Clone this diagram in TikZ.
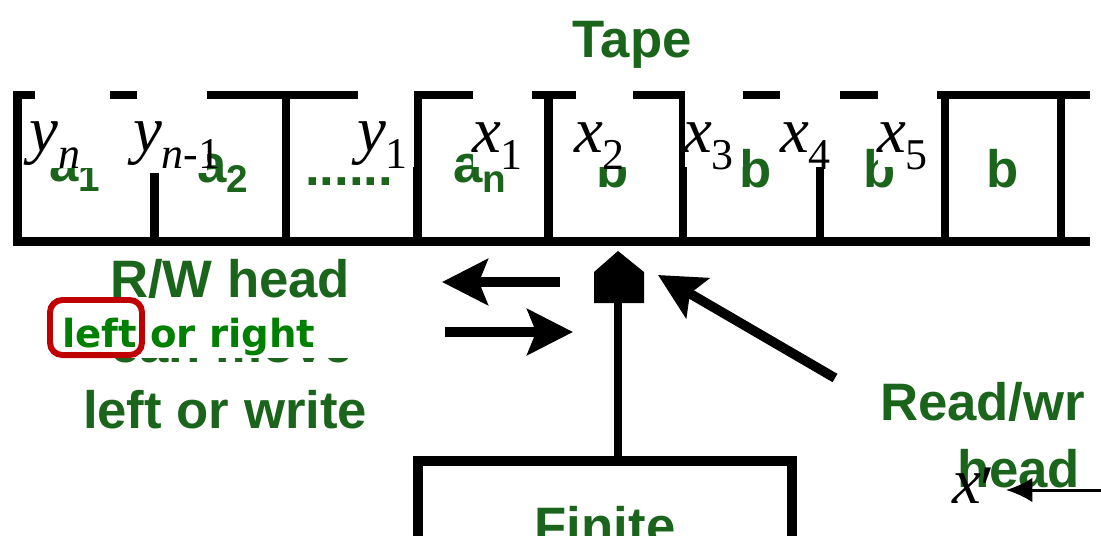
\documentclass[tikz,border=0pt]{standalone}
\usepackage{fontspec}
\setmainfont{Liberation Sans}
\newfontfamily\tms{Liberation Serif}
\newfontfamily\dejavu{DejaVu Sans}
\usetikzlibrary{arrows.meta,positioning}
\definecolor{TapeGreen}{HTML}{1B641B}
\definecolor{NoteGreen}{HTML}{008000}
\definecolor{Mark}{HTML}{C00000}
\newcommand\cellsub[2]{#1\raisebox{-6pt}{\fontsize{22}{22}\selectfont #2}}
\newcommand\varsub[2]{{\itshape #1}\raisebox{-10pt}{\fontsize{25}{25}\selectfont #2}}

\begin{document}
\begin{tikzpicture}[x=0.02cm, y=-0.02cm,
  every node/.style={inner sep=0pt, outer sep=0pt},
  big/.style={font=\fontsize{30}{30}\selectfont\bfseries, text=TapeGreen, anchor=base},
  mvar/.style={font=\tms\fontsize{37}{37}\selectfont, anchor=base west},
  note/.style={font=\dejavu\fontsize{22}{22}\selectfont\bfseries, text=NoteGreen, anchor=base west},
  wall/.style={line width=5.1pt},
  mover/.style={line width=5.5pt, -{Stealth[length=26pt, width=26pt, inset=5pt]}}]
  \useasboundingbox (0,0) rectangle (1101,549);
  \begin{scope}
    \clip (0,0) rectangle (1090,535);
    % tape
    \draw[wall] (13,95) -- (1090,95);
    \draw[wall] (13,241.5) -- (1090,241.5);
    \foreach \wx in {17.5,154.5,286,417.5,548.5,683,820,945,1061}
      \draw[wall] (\wx,95) -- (\wx,241.5);
    \node[big] (tape) at (632,57) {Tape};
    \node[big] (c1) at (75,181) {\cellsub{a}{1}};
    \node[big] (c2) at (223,182) {\cellsub{a}{2}};
    \node[big] (c3) at (349,185) {......};
    \node[big] (c4) at (480,182) {\cellsub{a}{n}};
    \node[big] (c5) at (613,187) {b};
    \node[big] (c6) at (756,187) {b};
    \node[big] (c7) at (880,187) {b};
    \node[big] (c8) at (1003,187) {b};
    % head and control
    \fill (594,303) -- (594,272) -- (618,251) -- (644,272) -- (644,303) -- cycle;
    \coordinate (hbase) at (618,303);
    \coordinate (ctop) at (618,461);
    \draw[line width=5pt] (hbase) -- (ctop);
    \draw[line width=5.5pt] (418,560) -- (418,461) -- (792,461) -- (792,560);
    \node[big] (fin) at (605,544) {Finite};
    % moves
    \coordinate (lmS) at (560,282);
    \coordinate (lmE) at (442,282);
    \coordinate (rmS) at (445,332);
    \coordinate (rmE) at (573,332);
    \coordinate (rwS) at (835,378);
    \coordinate (rwE) at (658,275);
    \draw[mover] (lmS) -- (lmE);
    \draw[mover] (rmS) -- (rmE);
    \draw[mover] (rwS) -- (rwE);
    \node[big, anchor=base west] (rw) at (110,297) {R/W head};
    \node[big, anchor=base west] (cm) at (110,362) {can move};
    \node[big, anchor=base west] (lw) at (83,428) {left or write};
    \node[big, anchor=base west] (rd) at (880,420) {Read/wr};
    \node[big, anchor=base west] (hd) at (957,487) {head};
  \end{scope}
  % labels laid over the tape
  \foreach \bx/\bw/\bb in {35/75/168, 137/70/173, 358/56/167, 473/59/167, 576/57/167, 685/58/167, 780/60/167, 878/59/167}
    \fill[white] (\bx,86) rectangle (\bx+\bw,\bb);
  \node[mvar] (yn) at (30,151) {\varsub{y}{\itshape n}};
  \node[mvar] (yn1) at (133,151) {\varsub{y}{{\itshape n}-1}};
  \node[mvar] (y1) at (357,151) {\varsub{y}{1}};
  \node[mvar] (x1) at (472,152) {\varsub{x}{1}};
  \node[mvar] (x2) at (574,152) {\varsub{x}{2}};
  \node[mvar] (x3) at (683,152) {\varsub{x}{3}};
  \node[mvar] (x4) at (780,152) {\varsub{x}{4}};
  \node[mvar] (x5) at (877,152) {\varsub{x}{5}};
  % left or right
  \fill[white] (40,299) rectangle (365,358);
  \node[note] (lft) at (62,347) {left};
  \node[note, base right=7.7pt of lft] (orr) {or right};
  \draw[Mark, line width=3.4pt, rounded corners=7pt] (50,300) rectangle (142,355);
  % x prime
  \node[mvar] (xp) at (952,503) {{\itshape x}\raisebox{-4pt}{′}};
  \coordinate (xsrc) at (1101,490);
  \coordinate (xtip) at (1006,490);
  \draw[line width=1.7pt, -{Latex[length=15pt, width=14pt]}] (xsrc) -- (xtip);
\end{tikzpicture}
\end{document}
